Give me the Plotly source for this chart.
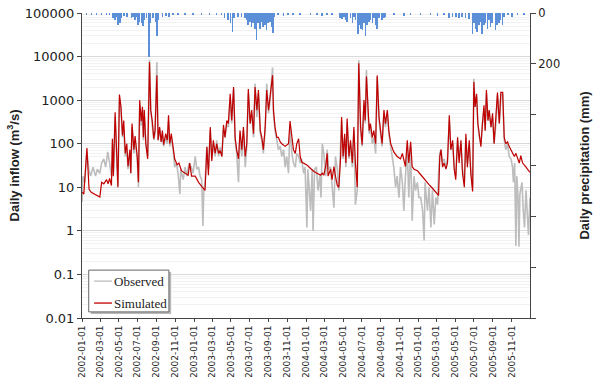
import pandas as pd
import plotly.graph_objects as go

START = "2002-01-01"

# ---- Simulated daily inflow (m3/s): day offsets from 2002-01-01 and values
sim_day = [1,6,16,23,30,47,58,64,71,80,85,90,96,99,102,108,112,117,122,127,132,136,141,146,150,156,159,163,169,173,180,184,188,193,197,200,203,208,214,220,224,229,234,238,244,248,253,258,262,266,273,278,282,286,291,297,302,310,316,324,335,346,351,357,
           369,380,390,401,407,412,418,423,428,434,439,445,450,456,461,466,472,477,483,488,494,499,504,510,515,521,526,532,537,542,548,553,559,564,570,575,581,586,591,597,602,608,613,621,624,629,635,640,646,651,662,673,678,684,689,695,700,706,711,716,
           723,734,745,756,766,777,783,788,794,799,802,810,815,821,826,832,837,843,846,851,856,860,864,870,875,881,886,891,897,902,908,913,919,923,927,932,936,940,946,951,957,962,968,973,978,984,989,995,1000,1006,1016,1027,1038,1044,1049,1054,1060,1065,1071,1076,1082,1093,
           1100,1110,1121,1131,1142,1153,1162,1166,1170,1175,1180,1186,1191,1197,1202,1208,1213,1218,1224,1229,1235,1240,1246,1251,1256,1262,1267,1273,1277,1281,1286,1290,1295,1300,1305,1310,1314,1318,1323,1327,1333,1338,1343,1349,1354,1360,1365,1371,1376,1381,1387,1392,1398,1403,1409,1414,1420,1425,1430,1436,1447,1460]
sim_val = [7.7,7,80,9,7.7,6.7,6,13,12,15,12,16,11,130,18,530,60,10,1350,700,155,340,60,100,30,73,21,290,73,150,51,13,1000,330,700,140,590,100,45,7500,590,330,130,200,3700,120,240,110,200,95,170,120,450,100,170,87,45,33,36,24,21,19,36,18,
           18,13,10.5,8.5,85,19,240,40,120,60,100,60,70,51,270,140,340,290,1400,340,2000,140,73,45,200,73,240,51,100,1800,290,590,170,2000,590,1700,200,140,73,240,1700,590,1200,3700,590,240,140,140,110,100,87,100,330,140,73,60,100,130,51,38,
           36,32,27,23,21,19,21,19,30,60,18,26,15,30,18,11,10,51,410,51,170,36,380,51,120,36,240,36,10,7000,240,95,1000,340,3500,590,200,290,140,200,100,3700,410,200,100,590,290,590,200,100,65,51,45,60,38,30,120,36,110,30,26,24,
           21,17,14,11.5,9.5,7.5,6.5,51,73,29,36,26,36,450,73,120,26,15,140,36,120,21,10,170,29,120,21,8,2600,700,1400,290,140,85,290,760,200,1700,340,590,240,500,100,340,1500,290,1500,1500,140,100,110,87,73,65,51,60,45,36,53,36,29,22]

# ---- Observed daily inflow (m3/s)
obs_day = [0,3,9,16,22,28,36,44,50,58,64,71,77,84,90,96,100,103,108,112,117,122,127,132,136,141,146,150,156,159,163,169,173,180,184,188,193,197,200,203,208,214,220,224,229,234,238,244,248,253,258,262,266,273,278,282,286,291,297,302,308,313,319,322,330,336,342,349,356,
           362,369,374,380,385,390,394,397,401,407,412,418,423,428,434,439,445,450,456,461,466,472,477,483,488,494,499,504,510,515,521,526,532,537,542,548,553,559,564,570,575,581,586,591,597,602,608,613,621,624,629,635,640,646,651,657,662,667,673,678,684,689,695,700,706,711,716,722,727,733,
           736,739,745,750,753,758,764,769,775,779,783,788,794,799,804,810,815,821,826,832,837,843,846,851,856,860,864,870,875,881,886,891,897,902,908,913,919,923,927,932,936,940,946,951,957,962,968,973,978,984,989,995,1000,1006,1011,1016,1022,1027,1033,1038,1044,1049,1054,1060,1065,1071,1076,1082,1087,1093,1098,
           1104,1110,1115,1118,1123,1126,1131,1137,1142,1148,1153,1159,1162,1166,1170,1175,1180,1186,1191,1197,1202,1208,1213,1218,1224,1229,1235,1240,1246,1251,1256,1262,1267,1273,1277,1281,1286,1290,1295,1300,1305,1310,1314,1318,1323,1327,1333,1338,1343,1349,1354,1360,1365,1371,1376,1381,1387,1392,1398,1403,1406,1410,1414,1417,1421,1424,1427,1434,1438,1442,1447,1452,1455,1460]
obs_val = [4.6,18,13,65,26,18,29,18,26,21,36,45,29,65,36,18,100,21,410,73,11,1100,590,140,200,51,73,26,60,21,240,60,120,45,10,700,260,590,120,410,100,51,8500,590,290,120,170,7500,120,220,110,170,87,140,100,330,87,140,73,29,36,21,7,26,15,29,18,36,29,
           21,51,26,29,18,15,1.3,8.5,13,85,26,200,45,100,51,120,51,85,51,220,140,290,240,1100,290,1800,120,60,13,170,51,200,29,87,1400,290,500,140,2400,410,1400,170,120,60,200,2400,500,1000,5600,500,200,120,73,87,51,73,29,51,21,240,60,36,29,60,51,36,45,21,29,1.2,
           26,13,2.9,26,1.0,26,29,8.5,18,5.8,100,60,18,73,26,29,13,3.4,51,26,8.5,60,340,45,140,29,290,45,100,29,200,4,8.5,8200,200,87,830,290,4900,500,170,240,100,140,60,3400,340,170,87,500,240,500,170,87,51,29,10,18,5.8,29,13,2.9,18,73,5.8,87,1.7,18,8.5,13,5.8,
           5.8,2.9,0.6,13,5.8,2.9,10,1.2,8.5,1.4,5.8,4,21,60,73,36,45,29,45,340,73,100,29,18,120,45,100,26,13,140,36,100,26,10,3100,700,1200,290,140,100,290,640,200,1400,340,500,240,410,100,290,1300,290,1300,1400,120,73,100,51,45,29,13,36,0.45,18,5.8,0.43,7,13,2.9,1.2,8.5,2.1,0.8,5.8]

# ---- Daily precipitation (mm)
pcp_day = [14,31,47,63,80,90,101,107,112,118,123,128,137,147,161,166,172,177,183,188,194,199,204,210,219,223,232,239,245,249,262,273,284,297,313,335,362,389,416,438,455,465,476,484,490,496,509,520,531,536,541,547,552,558,563,569,574,580,585,590,596,601,607,612,618,623,628,639,656,672,688,710,
           745,766,783,799,815,840,848,853,859,864,875,881,886,891,899,906,910,914,919,924,929,935,940,946,951,957,962,968,978,984,989,1016,1049,1071,1103,1136,1158,1180,1196,1207,1218,1228,1239,1250,1261,1272,1277,1283,1288,1294,1299,1304,1310,1315,1321,1326,1332,1337,1348,1353,1359,1364,1370,1375,1388,1402,1419,1440]
pcp_val = [5,4,7,4,5,8,21,28,17,48,41,21,11,15,21,15,28,17,48,35,41,52,28,21,175,41,21,35,92,28,17,12,15,8,7,5,7,4,5,7,8,21,28,41,75,21,15,17,21,28,48,35,55,41,61,108,41,61,35,55,48,68,41,35,55,79,15,9,12,8,7,5,
           4,5,12,8,7,21,25,17,28,35,21,41,15,28,81,48,61,68,41,92,48,35,28,41,21,48,61,21,28,21,15,8,12,9,7,8,12,7,21,15,17,21,15,21,25,81,41,61,75,48,35,81,48,41,61,28,55,41,68,48,41,28,48,15,9,17,8,5]

# ---- Axis tick labels and legend entries
left_tickvals = [0.01, 0.1, 1, 10, 100, 1000, 10000, 100000]
left_ticktext = ["0.01", "0.1", "1", "10", "100", "1000", "10000", "100000"]
right_tickvals = [0, 200]
right_ticktext = ["0", "200"]
x_ticks = pd.date_range("2002-01-01", "2005-11-01", freq="2MS")
legend_names = ["Observed", "Simulated"]
legend_colors = ["#bdbdbd", "#c00000"]

base = pd.Timestamp(START)
to_dates = lambda d: base + pd.to_timedelta(d, unit="D")

fig = go.Figure()
fig.add_trace(go.Scatter(x=to_dates(obs_day), y=obs_val, mode="lines", name=legend_names[0],
                         line=dict(color=legend_colors[0], width=1.6)))
fig.add_trace(go.Scatter(x=to_dates(sim_day), y=sim_val, mode="lines", name=legend_names[1],
                         line=dict(color=legend_colors[1], width=1.2)))
fig.add_trace(go.Bar(x=to_dates(pcp_day), y=pcp_val, yaxis="y2", name="Precipitation",
                     marker=dict(color="#5b8fd8", line=dict(width=0)),
                     width=1.8 * 86400000))

# ---- Legend box (drawn in plot-area fractions)
shapes = [
    dict(type="rect", xref="paper", yref="paper", x0=0.020, x1=0.199, y0=0.013, y1=0.151,
         fillcolor="#b8b8b8", line=dict(width=0), layer="above"),
    dict(type="rect", xref="paper", yref="paper", x0=0.015, x1=0.194, y0=0.020, y1=0.157,
         fillcolor="white", line=dict(color="#666", width=1), layer="above"),
]
annotations = []
for i, (nm, col) in enumerate(zip(legend_names, legend_colors)):
    yy = 0.121 - i * 0.072
    shapes.append(dict(type="line", xref="paper", yref="paper", x0=0.027, x1=0.067, y0=yy, y1=yy,
                       line=dict(color=col, width=1.3), layer="above"))
    annotations.append(dict(text=nm, xref="paper", yref="paper", x=0.067, y=yy,
                            xanchor="left", yanchor="middle", showarrow=False,
                            font=dict(family="Liberation Serif, Times New Roman, serif", size=13, color="#222")))

sans = "Liberation Sans, Arial, sans-serif"
tick_family = "DejaVu Sans, Verdana, sans-serif"
fig.update_layout(
    width=598, height=377,
    margin=dict(l=82, r=68, t=13, b=59, autoexpand=False),
    paper_bgcolor="white", plot_bgcolor="white",
    bargap=0,
    showlegend=False,
    shapes=shapes, annotations=annotations,
    xaxis=dict(type="date", range=["2002-01-01", "2005-12-31"], automargin=False,
               tickvals=x_ticks, tickformat="%Y-%m-%d", tickangle=-90,
               tickfont=dict(family=tick_family, size=9, color="#222"),
               ticks="outside", ticklen=3, tickcolor="#444",
               showline=True, linecolor="#444", linewidth=1,
               showgrid=False, zeroline=False),
    yaxis=dict(type="log", range=[-2, 5], automargin=False,
               tickvals=left_tickvals, ticktext=left_ticktext,
               tickfont=dict(family=tick_family, size=13, color="#222"),
               ticks="outside", ticklen=4, tickcolor="#444",
               showline=True, linecolor="#444", linewidth=1,
               showgrid=True, gridcolor="#d9d9d9", gridwidth=1,
               minor=dict(dtick="D1", showgrid=True, gridcolor="#f2f2f2", ticks=""),
               title=dict(text="<b>Daily inflow (m<sup>3</sup>/s)</b>", standoff=2,
                          font=dict(family=sans, size=13, color="#222")),
               zeroline=False),
    yaxis2=dict(overlaying="y", side="right", range=[1200, 0], automargin=False,
                tickvals=right_tickvals, ticktext=right_ticktext,
                tickfont=dict(family=tick_family, size=11.5, color="#222"),
                ticks="outside", ticklen=5, tickcolor="#444",
                minor=dict(tick0=0, dtick=200, ticks="outside", ticklen=5, tickcolor="#444", showgrid=False),
                showline=True, linecolor="#444", linewidth=1,
                showgrid=False, zeroline=False,
                title=dict(text="<b>Daily precipitation (mm)</b>", standoff=20,
                           font=dict(family=sans, size=13, color="#222"))),
)

fig.write_html("out.html")
